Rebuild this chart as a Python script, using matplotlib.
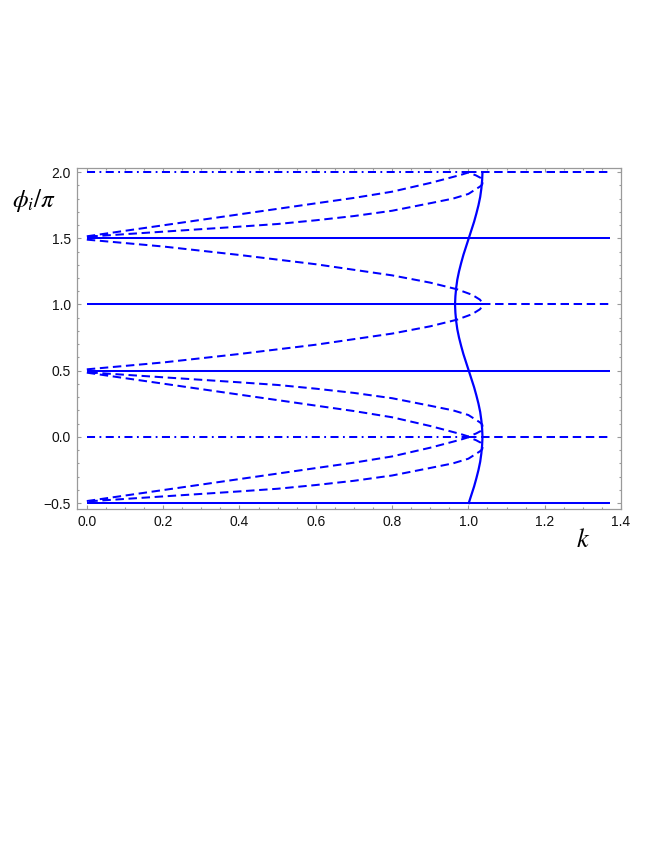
import matplotlib
matplotlib.use("Agg")
import matplotlib.pyplot as plt
from matplotlib.ticker import MultipleLocator, FuncFormatter

plt.rcParams['mathtext.fontset'] = 'stix'
plt.rcParams['font.family'] = ['Liberation Sans', 'DejaVu Sans']

# ---------------- data ----------------
# horizontal branches: level phi/pi, k start, k end, style
hline_phi   = [2.0,       2.0,      1.5,     1.0,     1.0,      0.5,     0.0,       0.0,      -0.5]
hline_k0    = [0.0,       1.0,      0.0,     0.0,     1.037,    0.0,     0.0,       1.0,      0.0]
hline_k1    = [1.0,       1.37,     1.37,    1.037,   1.37,     1.37,    1.0,       1.37,     1.37]
hline_style = ['dashdot', 'dashed', 'solid', 'solid', 'dashed', 'solid', 'dashdot', 'dashed', 'solid']

# closed loop branches (fast branch out, slow branch back): k and offset of phi/pi
loop_k   = [0.0, 0.2, 0.4, 0.6, 0.7, 0.8, 0.9, 0.95, 0.98, 1.0, 1.02, 1.033, 1.038,
            1.036, 1.03, 1.0, 0.96, 0.9, 0.8, 0.7, 0.6, 0.5, 0.4, 0.2, 0.0]
loop_off = [0.015, 0.098, 0.181, 0.264, 0.305, 0.352, 0.418, 0.456, 0.479, 0.497, 0.475, 0.455, 0.43,
            0.405, 0.39, 0.335, 0.30, 0.265, 0.208, 0.168, 0.136, 0.108, 0.088, 0.05, 0.012]
loop_base = [1.5, 0.5, -0.5]
loop_sign = [1, -1, 1]

# arcs joining 1.5 and 0.5 at phi/pi = 1
arc_k   = [0.0, 0.2, 0.4, 0.6, 0.8, 0.9, 0.97, 1.01, 1.03, 1.035, 1.037]
arc_off = [0.01, 0.062, 0.126, 0.196, 0.28, 0.335, 0.385, 0.427, 0.463, 0.48, 0.5]
arc_base = [1.5, 0.5]
arc_sign = [-1, 1]

# solid S-shaped curve: k read at phi/pi steps of 1/16
s_phi = [-0.5, -0.4375, -0.375, -0.3125, -0.25, -0.1875, -0.125, -0.0625,
         0.0, 0.0625, 0.125, 0.1875, 0.25, 0.3125, 0.375, 0.4375,
         0.5, 0.5625, 0.625, 0.6875, 0.75, 0.8125, 0.875, 0.9375,
         1.0, 1.0625, 1.125, 1.1875, 1.25, 1.3125, 1.375, 1.4375,
         1.5, 1.5625, 1.625, 1.6875, 1.75, 1.8125, 1.875, 1.9375, 2.0]
s_k   = [1.001, 1.008, 1.015, 1.021, 1.0265, 1.031, 1.034, 1.036,
         1.037, 1.036, 1.034, 1.031, 1.0265, 1.021, 1.015, 1.008,
         1.001, 0.994, 0.987, 0.981, 0.9755, 0.971, 0.968, 0.966,
         0.965, 0.966, 0.968, 0.971, 0.9755, 0.981, 0.987, 0.994,
         1.001, 1.008, 1.015, 1.021, 1.0265, 1.031, 1.034, 1.036, 1.037]

xticks = [0.0, 0.2, 0.4, 0.6, 0.8, 1.0, 1.2, 1.4]
yticks = [-0.5, 0.0, 0.5, 1.0, 1.5, 2.0]

# ---------------- drawing ----------------
W, H = 654, 846
fig = plt.figure(figsize=(W / 100, H / 100), dpi=100)
ax = fig.add_axes([76.5 / W, 1 - 509 / H, (621 - 76.5) / W, (509 - 168) / H])

blue = '#0000ff'
lw = 1.45
styles = {
    'solid': dict(linestyle='-'),
    'dashed': dict(linestyle=(0, (4.2, 2.3))),
    'dashdot': dict(linestyle=(0, (4.0, 2.2, 0.9, 2.2))),
}

for p, k0, k1, st in zip(hline_phi, hline_k0, hline_k1, hline_style):
    ax.plot([k0, k1], [p, p], color=blue, lw=lw, solid_capstyle='butt', **styles[st])

for b, s in zip(loop_base, loop_sign):
    ax.plot(loop_k, [b + s * o for o in loop_off], color=blue, lw=lw, **styles['dashed'])

for b, s in zip(arc_base, arc_sign):
    ax.plot(arc_k, [b + s * o for o in arc_off], color=blue, lw=lw, **styles['dashed'])

ax.plot(s_k, s_phi, color=blue, lw=1.6, linestyle='-')

ax.set_xlim(-0.027, 1.40)
ax.set_ylim(-0.545, 2.031)
ax.set_xticks(xticks)
ax.set_yticks(yticks)
ax.xaxis.set_minor_locator(MultipleLocator(0.05))
ax.yaxis.set_minor_locator(MultipleLocator(0.1))
fmt = FuncFormatter(lambda v, pos: ('%.1f' % v).replace('-', '\u2212'))
ax.xaxis.set_major_formatter(fmt)
ax.yaxis.set_major_formatter(fmt)

gray = '#9a9a9a'
for sp in ax.spines.values():
    sp.set_color(gray)
    sp.set_linewidth(0.9)
ax.tick_params(which='both', direction='in', top=True, right=True, color=gray,
               labelsize=10, labelcolor='#111111', width=0.8)
ax.tick_params(which='major', length=3.2, pad=4)
ax.tick_params(which='minor', length=1.7)

fig.text(12 / W, 1 - 201 / H, r'$\phi_i/\pi$', fontsize=18, ha='left', va='center')
fig.text(583 / W, 1 - 540 / H, r'$k$', fontsize=19, ha='center', va='center')

fig.savefig('out.png', dpi=100)
